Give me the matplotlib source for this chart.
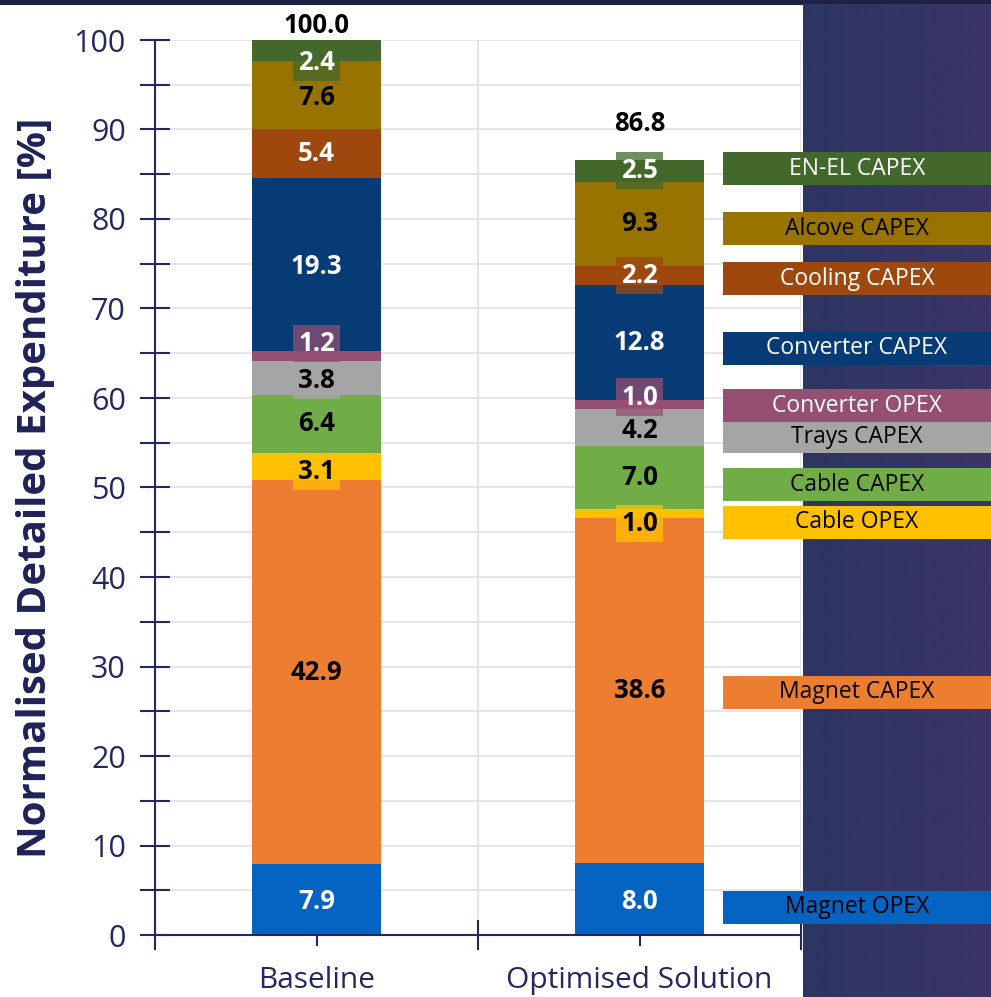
import matplotlib.pyplot as plt
import numpy as np
from matplotlib.colors import LinearSegmentedColormap
from matplotlib.patches import Rectangle
from matplotlib.ticker import MultipleLocator

plt.rcParams["font.family"] = ["Open Sans", "DejaVu Sans"]

categories = ["Baseline", "Optimised Solution"]
components = [
    "Magnet OPEX", "Magnet CAPEX", "Cable OPEX", "Cable CAPEX", "Trays CAPEX",
    "Converter OPEX", "Converter CAPEX", "Cooling CAPEX", "Alcove CAPEX", "EN-EL CAPEX",
]
baseline = [7.9, 42.9, 3.1, 6.4, 3.8, 1.2, 19.3, 5.4, 7.6, 2.4]
optimised = [8.0, 38.6, 1.0, 7.0, 4.2, 1.0, 12.8, 2.2, 9.3, 2.5]
totals = [100.0, 86.8]

colors = ["#0563C1", "#ED7D31", "#FFC000", "#70AD47", "#A5A5A5",
          "#954F72", "#063B75", "#9E480E", "#997300", "#43682B"]
bar_text = ["white", "black", "black", "black", "black",
            "white", "white", "white", "black", "white"]
tag_text = ["black", "black", "black", "black", "black",
            "white", "white", "white", "black", "white"]
# small nudges so the thin segments' labels don't collide
label_shift = [
    [-0.25, 0, -0.6, 0, -0.2, 1.4, -0.3, 0, -0.2, -1.3],
    [-0.3, 0, -1.1, 0, -0.3, 0.8, 0, 0, 0, 0.1],
]
# vertical centre of each side tag, in figure pixels from the top
tag_y_px = [907, 692, 522, 485, 437, 406, 348, 279, 229, 169]

W, H = 991, 997
navy = "#25285e"
fig = plt.figure(figsize=(W / 100, H / 100), dpi=100, facecolor="#1f2148")

# slide background: dark gradient on the right, white panel for the chart
bg = fig.add_axes([0, 0, 1, 1], zorder=-10)
bg.set_xlim(0, 1)
bg.set_ylim(0, 1)
grad = np.linspace(0, 1, 256)[None, :]
bg.imshow(grad, aspect="auto", extent=[803 / W, 1, 0, (H - 5) / H],
          cmap=LinearSegmentedColormap.from_list("bg", ["#2d3562", "#3b3567"]))
bg.add_patch(Rectangle((0, 0), 803 / W, (H - 5) / H,
                       facecolor="white", edgecolor="none"))
bg.set_axis_off()

ax = fig.add_axes([155 / W, 1 - 935 / H, (801 - 155) / W, (935 - 40) / H])
ax.set_facecolor("none")

x = np.array([0.5, 1.5])
width = 0.40
data = np.array([baseline, optimised])
bottoms = np.zeros(2)
for k, comp in enumerate(components):
    vals = data[:, k]
    ax.bar(x, vals, width, bottom=bottoms, color=colors[k], zorder=3, label=comp)
    for i in range(2):
        yc = bottoms[i] + vals[i] / 2 + label_shift[i][k]
        box = None
        if vals[i] < 4:
            box = dict(boxstyle="square,pad=0.2", facecolor=colors[k],
                       edgecolor="none", alpha=0.75)
        ax.text(x[i], yc, f"{vals[i]:.1f}", ha="center", va="center",
                fontsize=18.5, fontweight="bold", color=bar_text[k],
                bbox=box, zorder=5)
    bottoms += vals

total_shift = [1.6, 4.1]
for i in range(2):
    ax.text(x[i], bottoms[i] + total_shift[i], f"{totals[i]:.1f}",
            ha="center", va="center", fontsize=18.5, fontweight="bold",
            color="black", clip_on=False, zorder=5)

ax.set_xlim(0, 2)
ax.set_ylim(0, 100)
ax.yaxis.set_major_locator(MultipleLocator(10))
ax.yaxis.set_minor_locator(MultipleLocator(5))
ax.set_xticks(x)
ax.set_xticklabels(categories)
ax.set_xticks([0, 1, 2], minor=True)

for s in ["top", "right"]:
    ax.spines[s].set_visible(False)
for s in ["left", "bottom"]:
    ax.spines[s].set_color(navy)
    ax.spines[s].set_linewidth(1.5)
    ax.spines[s].set_zorder(4)

ax.tick_params(axis="y", which="both", direction="inout", length=22, width=1.5,
               color=navy, labelcolor=navy, labelsize=22, pad=10)
ax.tick_params(axis="x", which="major", direction="inout", length=16, width=1.5,
               color=navy, labelcolor=navy, labelsize=21.5, pad=14)
ax.tick_params(axis="x", which="minor", direction="inout", length=22, width=1.5,
               color=navy)

ax.grid(True, axis="y", which="both", color="#e2e2e2", linewidth=1.2, zorder=0)
ax.grid(True, axis="x", which="minor", color="#e2e2e2", linewidth=1.2, zorder=0)
ax.grid(False, axis="x", which="major")

fig.text(36 / W, 1 - 488 / H, "Normalised Detailed Expenditure [%]", rotation=90,
         ha="center", va="center", fontsize=29, fontweight="bold", color="#1f2258")

# coloured tags naming each component on the right
tag_h = 33
for k, comp in enumerate(components):
    yc = 1 - tag_y_px[k] / H
    fig.patches.append(Rectangle((723 / W, yc - tag_h / 2 / H), (W - 723) / W, tag_h / H,
                                 transform=fig.transFigure, facecolor=colors[k],
                                 edgecolor="none", zorder=6))
    fig.text(857 / W, yc, comp, ha="center", va="center", fontsize=16.5,
             color=tag_text[k], zorder=7)

fig.savefig("out.png", dpi=100, facecolor=fig.get_facecolor())
